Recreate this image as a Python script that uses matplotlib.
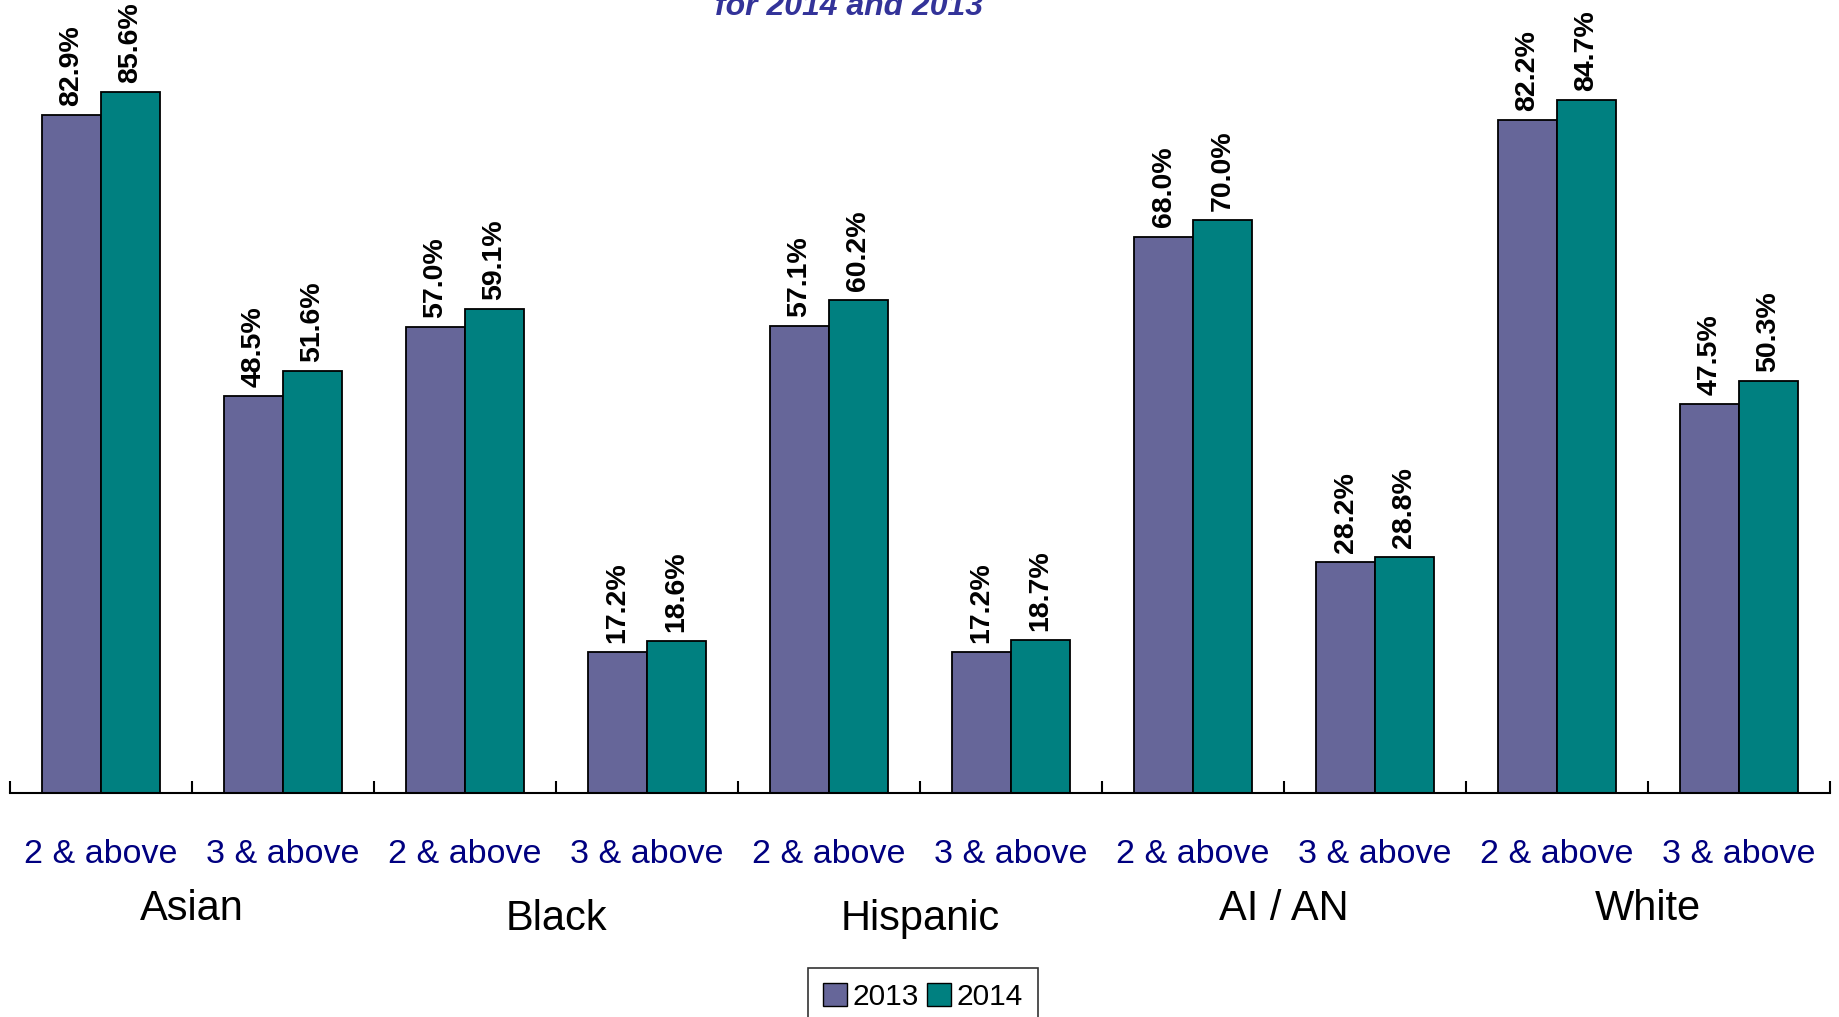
"""
Grouped bar chart: share of students by race/ethnicity, 2013 vs 2014.
"""

import numpy as np
import matplotlib.pyplot as plt
from matplotlib.patches import Patch
from matplotlib.transforms import blended_transform_factory

plt.rcParams['font.family'] = ['Liberation Sans', 'DejaVu Sans']

# ----- Data -----
tick_labels = ["2 & above", "3 & above"] * 5
groups = ["Asian", "Black", "Hispanic", "AI / AN", "White"]
vals_2013 = [82.9, 48.5, 57.0, 17.2, 57.1, 17.2, 68.0, 28.2, 82.2, 47.5]
vals_2014 = [85.6, 51.6, 59.1, 18.6, 60.2, 18.7, 70.0, 28.8, 84.7, 50.3]

c2013 = '#666699'
c2014 = '#008080'

W, H = 1839, 1017
fig = plt.figure(figsize=(W / 100, H / 100), dpi=100)
base_px = 793
ax = fig.add_axes([10 / W, 1 - base_px / H, 1820 / W, base_px / H])

x = np.arange(len(tick_labels))
bw = 0.324
b1 = ax.bar(x - bw / 2, vals_2013, bw, color=c2013, edgecolor='black', lw=1.3)
b2 = ax.bar(x + bw / 2, vals_2014, bw, color=c2014, edgecolor='black', lw=1.3)

for bars, vals in ((b1, vals_2013), (b2, vals_2014)):
    for rect, v in zip(bars, vals):
        ax.annotate(f"{v:.1f}%", (rect.get_x() + rect.get_width() / 2, v),
                    xytext=(0, 6.5), textcoords='offset points',
                    rotation=90, ha='center', va='bottom',
                    fontsize=20.5, fontweight='bold')

ax.set_xlim(-0.5, len(x) - 0.5)
ax.set_ylim(0, 96.9)
for s in ('top', 'right', 'left'):
    ax.spines[s].set_visible(False)
ax.spines['bottom'].set_linewidth(1.5)
ax.set_yticks([])
ax.set_xticks(np.arange(-0.5, len(x)), minor=False)
ax.set_xticklabels([])
ax.tick_params(axis='x', direction='in', length=8.5, width=1.5)

trans = blended_transform_factory(ax.transData, ax.transAxes)
for xi, lab in zip(x, tick_labels):
    ax.text(xi, -70 / base_px, lab, transform=trans, ha='center',
            va='baseline', fontsize=24.5, color='#000080')

group_base = [920, 930, 930, 920, 920]
for i, (g, yb) in enumerate(zip(groups, group_base)):
    ax.text(2 * i + 0.5, -(yb - base_px) / base_px, g, transform=trans,
            ha='center', va='baseline', fontsize=30, color='black')

fig.text(849 / W, 1 - 15 / H, "for 2014 and 2013", ha='center', va='baseline',
         fontsize=23, fontweight='bold', fontstyle='italic', color='#333399')

handles = [Patch(facecolor=c2013, edgecolor='black', label='2013'),
           Patch(facecolor=c2014, edgecolor='black', label='2014')]
leg = fig.legend(handles=handles, loc='upper left',
                 bbox_to_anchor=(808 / W, 1 - 968 / H), ncol=2, fontsize=21.5,
                 frameon=True, fancybox=False, edgecolor='black',
                 handlelength=0.8, handleheight=0.8, handletextpad=0.2,
                 columnspacing=0.25, borderpad=0.5, borderaxespad=0)
leg.get_frame().set_linewidth(1.2)

fig.savefig("out.png", dpi=100)
